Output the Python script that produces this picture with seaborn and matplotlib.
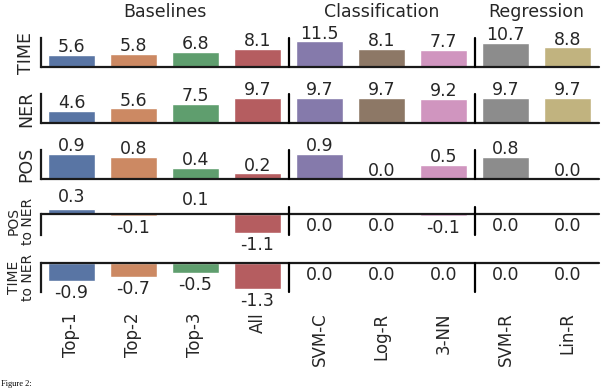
import matplotlib
matplotlib.use("Agg")
import matplotlib.pyplot as plt
import matplotlib.transforms as mtransforms
import numpy as np
import pandas as pd
import seaborn as sns

categories = ["Top-1", "Top-2", "Top-3", "All", "SVM-C", "Log-R", "3-NN", "SVM-R", "Lin-R"]
row_names = ["TIME", "NER", "POS", "POS\nto NER", "TIME\nto NER"]
time_vals = [5.6, 5.8, 6.8, 8.1, 11.5, 8.1, 7.7, 10.7, 8.8]
ner_vals = [4.6, 5.6, 7.5, 9.7, 9.7, 9.7, 9.2, 9.7, 9.7]
pos_vals = [0.9, 0.8, 0.4, 0.2, 0.9, 0.0, 0.5, 0.8, 0.0]
pos_to_ner_vals = [0.3, -0.1, 0.1, -1.1, 0.0, 0.0, -0.1, 0.0, 0.0]
time_to_ner_vals = [-0.9, -0.7, -0.5, -1.3, 0.0, 0.0, 0.0, 0.0, 0.0]
group_titles = ["Baselines", "Classification", "Regression"]
group_centers = [1.5, 5.0, 7.5]
separators = [3.5, 6.5]
caption = "Figure 2:"

series = [time_vals, ner_vals, pos_vals, pos_to_ner_vals, time_to_ner_vals]

sns.set_theme(style="white")
plt.rcParams["font.family"] = ["DejaVu Sans"]
text_color = "#262626"
line_color = "#1a1a1a"

fig = plt.figure(figsize=(6.02, 3.88), dpi=100)
H = 388.0
W = 602.0
# (top px, bottom px) of each axes
rows_px = [(38, 67), (94.3, 122.7), (150, 179), (207, 235), (262.7, 291.7)]
ylims = [(0, 13.0), (0, 11.1), (0, 1.05), (-1.22, 0.4), (-1.45, 0.0)]
left = 40.5 / W
width = 558 / W

palette = sns.color_palette("deep", len(categories))

axes = []
for i, (vals, (tp, bp)) in enumerate(zip(series, rows_px)):
    ax = fig.add_axes([left, 1 - bp / H, width, (bp - tp) / H])
    axes.append(ax)
    df = pd.DataFrame({"cat": categories, "val": vals})
    sns.barplot(data=df, x="cat", y="val", hue="cat", palette=palette,
                legend=False, ax=ax, width=0.76, saturation=0.75)
    ax.set_xlim(-0.5, len(categories) - 0.5)
    ax.set_ylim(*ylims[i])
    for s in ["top", "right", "bottom"]:
        ax.spines[s].set_visible(False)
    ax.spines["left"].set_color(line_color)
    ax.spines["left"].set_linewidth(1.6)
    lo, hi = ylims[i]
    ax.spines["left"].set_bounds(lo, min(hi, 0) if lo < 0 else hi)
    ax.axhline(0, color=line_color, lw=1.6, clip_on=False, zorder=5)
    for sx in separators:
        ax.axvline(sx, color="black", lw=1.6, clip_on=False, zorder=5)
    ax.set_yticks([])
    small = "\n" in row_names[i]
    ax.set_ylabel(row_names[i], fontsize=10 if small else 12.5, color=text_color,
                  labelpad=4, linespacing=1.0)
    ax.set_xlabel("")
    row_has_neg = min(vals) < 0
    for j, v in enumerate(vals):
        above = v > 0 or (v == 0 and not row_has_neg)
        dy = 2
        if above and row_has_neg:
            dy = 5
        ax.annotate(f"{v:.1f}", xy=(j, v), xytext=(0, dy if above else -2.5),
                    textcoords="offset points", ha="center",
                    va="baseline" if above else "top",
                    fontsize=12.5, color=text_color, annotation_clip=False)
    ax.set_xticks(range(len(categories)))
    if i < len(series) - 1:
        ax.tick_params(axis="x", length=0, labelbottom=False)
    else:
        ax.set_xticklabels(categories, rotation=90, fontsize=12, color=text_color)
        ax.tick_params(axis="x", length=0, pad=15)

trans = mtransforms.blended_transform_factory(axes[0].transData, fig.transFigure)
for t, cx in zip(group_titles, group_centers):
    axes[0].text(cx, 1 - 16.7 / H, t, transform=trans, ha="center", va="baseline",
                 fontsize=12.5, color=text_color)

fig.text(0.002, 0.5 / H, caption, ha="left", va="bottom",
         fontsize=6, family="Liberation Serif", color="black")

fig.savefig("out.png", dpi=100)
